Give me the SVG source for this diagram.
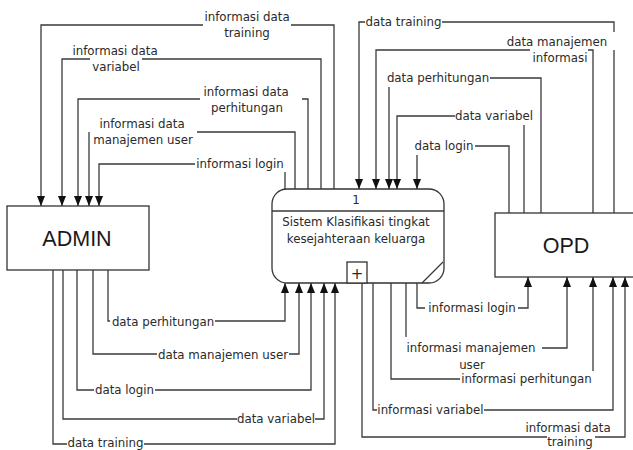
<svg xmlns="http://www.w3.org/2000/svg" width="633" height="450" viewBox="0 0 633 450">
  <style>
    .box { fill: #ffffff; stroke: #333333; stroke-width: 1.3; }
    .ln { fill: none; stroke: #3a3a3a; stroke-width: 1.3; }
    .lbl { font-family: "DejaVu Sans", Verdana, sans-serif; font-size: 11.8px; fill: #2a2a2a; text-anchor: middle; }
    .big { font-family: "Liberation Sans", Arial, sans-serif; font-size: 21.5px; fill: #1a1a1a; text-anchor: middle; }
  </style>
  <defs>
    <marker id="arr" viewBox="0 0 10 8" refX="10" refY="4" markerWidth="11" markerHeight="8" markerUnits="userSpaceOnUse" orient="auto">
      <path d="M0,0 L10,4 L0,8 z" fill="#111111"/>
    </marker>
  </defs>
  <rect width="633" height="450" fill="#ffffff"/>

  <!-- external entity: ADMIN -->
  <g id="admin">
    <rect class="box" x="7" y="206" width="142" height="64"/>
    <text class="big" x="77" y="246">ADMIN</text>
  </g>

  <!-- external entity: OPD -->
  <g id="opd">
    <rect class="box" x="495" y="213" width="150" height="64"/>
    <text class="big" x="566" y="253">OPD</text>
  </g>

  <!-- process 1 -->
  <g id="process-1">
    <rect class="box" x="272" y="189" width="172" height="94" rx="15" ry="15"/>
    <line class="ln" x1="272" y1="211" x2="444" y2="211"/>
    <line class="ln" x1="422" y1="283" x2="443" y2="262"/>
    <rect class="box" x="347" y="262" width="20" height="21"/>
    <text class="lbl" x="357" y="279" style="font-size:15px">+</text>
    <text class="lbl" x="356" y="204">1</text>
    <text class="lbl" x="356" y="226">Sistem Klasifikasi tingkat</text>
    <text class="lbl" x="356" y="243">kesejahteraan keluarga</text>
  </g>

  <g id="connectors">
    <!-- process 1 to ADMIN -->
    <path class="ln" d="M334,189 V25 H291"/>
    <path class="ln" d="M203,25 H41 V206" marker-end="url(#arr)"/>
    <text class="lbl" x="247" y="21">informasi data</text>
    <text class="lbl" x="247" y="37">training</text>

    <path class="ln" d="M321,189 V59 H142"/>
    <path class="ln" d="M90,59 H62 V206" marker-end="url(#arr)"/>
    <text class="lbl" x="115" y="55">informasi data</text>
    <text class="lbl" x="116" y="71">variabel</text>

    <path class="ln" d="M308,189 V99 H302"/>
    <path class="ln" d="M200,99 H78 V206" marker-end="url(#arr)"/>
    <text class="lbl" x="246" y="96">informasi data</text>
    <text class="lbl" x="247" y="112">perhitungan</text>

    <path class="ln" d="M295,189 V132 H197"/>
    <path class="ln" d="M89,132 V206" marker-end="url(#arr)"/>
    <text class="lbl" x="142" y="128">informasi data</text>
    <text class="lbl" x="143" y="144">manajemen user</text>

    <path class="ln" d="M285,189 V172"/>
    <path class="ln" d="M195,164 H99 V206" marker-end="url(#arr)"/>
    <text class="lbl" x="240" y="168">informasi login</text>

    <!-- OPD to process 1 -->
    <path class="ln" d="M614,213 V50"/>
    <path class="ln" d="M614,32 V22 H442"/>
    <path class="ln" d="M365,22 H359 V189" marker-end="url(#arr)"/>
    <text class="lbl" x="403.5" y="26">data training</text>

    <path class="ln" d="M593,213 V50 H588"/>
    <path class="ln" d="M530,50 H376 V189" marker-end="url(#arr)"/>
    <text class="lbl" x="557" y="46">data manajemen</text>
    <text class="lbl" x="560" y="62">informasi</text>

    <path class="ln" d="M541,213 V78 H490"/>
    <path class="ln" d="M389,87 V189" marker-end="url(#arr)"/>
    <text class="lbl" x="438" y="82">data perhitungan</text>

    <path class="ln" d="M524,213 V125"/>
    <path class="ln" d="M455,116 H397 V189" marker-end="url(#arr)"/>
    <text class="lbl" x="494" y="120">data variabel</text>

    <path class="ln" d="M509,213 V146 H475"/>
    <path class="ln" d="M417,155 V189" marker-end="url(#arr)"/>
    <text class="lbl" x="444" y="150">data login</text>

    <!-- ADMIN to process 1 -->
    <path class="ln" d="M108,270 V321 H110"/>
    <path class="ln" d="M215,321 H285 V283" marker-end="url(#arr)"/>
    <text class="lbl" x="163" y="326">data perhitungan</text>

    <path class="ln" d="M93,270 V354 H157"/>
    <path class="ln" d="M289,354 H299 V283" marker-end="url(#arr)"/>
    <text class="lbl" x="223" y="359">data manajemen user</text>

    <path class="ln" d="M77,270 V390 H94"/>
    <path class="ln" d="M155,390 H311 V283" marker-end="url(#arr)"/>
    <text class="lbl" x="124.5" y="394">data login</text>

    <path class="ln" d="M63,270 V419 H237"/>
    <path class="ln" d="M315,419 H324 V283" marker-end="url(#arr)"/>
    <text class="lbl" x="276" y="423">data variabel</text>

    <path class="ln" d="M53,270 V444 H67"/>
    <path class="ln" d="M144,444 H335 V283" marker-end="url(#arr)"/>
    <text class="lbl" x="105.5" y="446.5">data training</text>

    <!-- process 1 to OPD -->
    <path class="ln" d="M417,283 V308 H425"/>
    <path class="ln" d="M518,308 H528 V277" marker-end="url(#arr)"/>
    <text class="lbl" x="472" y="312">informasi login</text>

    <path class="ln" d="M406,283 V337"/>
    <path class="ln" d="M542,348 H567 V277" marker-end="url(#arr)"/>
    <text class="lbl" x="471" y="352">informasi manajemen</text>
    <text class="lbl" x="472" y="369">user</text>

    <path class="ln" d="M391,283 V379 H460"/>
    <path class="ln" d="M593,371 V277" marker-end="url(#arr)"/>
    <text class="lbl" x="526.5" y="383">informasi perhitungan</text>

    <path class="ln" d="M373,283 V410 H377"/>
    <path class="ln" d="M484,410 H613 V277" marker-end="url(#arr)"/>
    <text class="lbl" x="430.5" y="414">informasi variabel</text>

    <path class="ln" d="M362,283 V437 H547"/>
    <path class="ln" d="M595,437 H625 V277" marker-end="url(#arr)"/>
    <text class="lbl" x="568" y="432">informasi data</text>
    <text class="lbl" x="570" y="446">training</text>
  </g>
</svg>
